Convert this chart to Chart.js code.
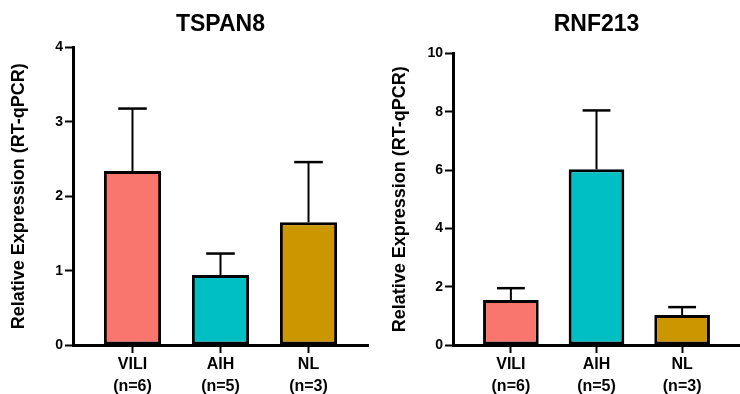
<!DOCTYPE html>
<html>
<head>
<meta charset="utf-8">
<script src="https://cdn.jsdelivr.net/npm/chart.js@4"></script>
<style>
  html, body { margin: 0; padding: 0; background: #fff; }
  #wrap { width: 740px; height: 394px; display: flex; }
  canvas { display: block; }
</style>
</head>
<body>
<div id="wrap">
  <canvas id="left" width="370" height="394"></canvas>
  <canvas id="right" width="370" height="394"></canvas>
</div>
<script>
// groups and sample sizes
var groups = ["VILI", "AIH", "NL"];
var counts = ["(n=6)", "(n=5)", "(n=3)"];
var colors = ["#F8766D", "#00BFC4", "#CC9600"];

// TSPAN8: mean and upper error (SEM)
var tspan8Mean = [2.34, 0.94, 1.65];
var tspan8Err = [0.84, 0.29, 0.81];

// RNF213: mean and upper error (SEM)
var rnf213Mean = [1.54, 6.03, 1.03];
var rnf213Err = [0.41, 2.02, 0.27];

Chart.defaults.font.family = "'Liberation Sans', Arial, sans-serif";
Chart.defaults.color = "#000";

// draws the one-sided error bar above each bar
var errorBars = {
    id: "errorBars",
    afterDatasetsDraw: function (chart) {
        var ctx = chart.ctx;
        var yScale = chart.scales.y;
        var ds = chart.data.datasets[0];
        var meta = chart.getDatasetMeta(0);
        ctx.save();
        ctx.strokeStyle = "#000";
        for (var i = 0; i < meta.data.length; i++) {
            var bar = meta.data[i];
            var top = yScale.getPixelForValue(ds.data[i].y + ds.errors[i]);
            var half = bar.width / 4;
            ctx.lineWidth = 2;
            ctx.beginPath();
            ctx.moveTo(bar.x, bar.y);
            ctx.lineTo(bar.x, top);
            ctx.stroke();
            ctx.lineWidth = 2.5;
            ctx.beginPath();
            ctx.moveTo(bar.x - half, top);
            ctx.lineTo(bar.x + half, top);
            ctx.stroke();
        }
        ctx.restore();
    }
};

function makeChart(id, title, means, errors, yMax, yStep, yWidth, titleLeft, titleBottom, padRight) {
    var points = [];
    for (var i = 0; i < means.length; i++) {
        points.push({ x: i, y: means[i] });
    }
    return new Chart(document.getElementById(id), {
        type: "bar",
        data: {
            datasets: [{
                data: points,
                errors: errors,
                backgroundColor: colors,
                borderColor: "#000",
                borderWidth: 3,
                borderSkipped: false,
                barPercentage: 0.65,
                categoryPercentage: 1
            }]
        },
        plugins: [errorBars],
        options: {
            responsive: false,
            animation: false,
            layout: { padding: { left: 0, right: padRight, top: 0, bottom: 0 } },
            plugins: {
                legend: { display: false },
                tooltip: { enabled: false },
                title: {
                    display: true,
                    text: title,
                    fullSize: false,
                    color: "#000",
                    font: { size: 23, weight: "bold" },
                    padding: { top: 11, bottom: titleBottom }
                }
            },
            scales: {
                x: {
                    type: "linear",
                    min: -0.676,
                    max: 2.676,
                    offset: false,
                    grid: {
                        offset: false,
                        drawOnChartArea: false,
                        tickLength: 8,
                        tickWidth: 2,
                        tickColor: "#000"
                    },
                    border: { color: "#000", width: 3 },
                    ticks: {
                        stepSize: 1,
                        includeBounds: false,
                        padding: 1,
                        maxRotation: 0,
                        autoSkip: false,
                        font: { size: 16, weight: "bold", lineHeight: 1.375 },
                        callback: function (v) {
                            if (Number.isInteger(v) && v >= 0 && v < groups.length) {
                                return [groups[v], counts[v]];
                            }
                            return "";
                        }
                    },
                    afterFit: function (scale) { scale.height = 49; }
                },
                y: {
                    min: 0,
                    max: yMax,
                    grid: {
                        drawOnChartArea: false,
                        tickLength: 8,
                        tickWidth: 2,
                        tickColor: "#000"
                    },
                    border: { color: "#000", width: 3 },
                    ticks: {
                        stepSize: yStep,
                        padding: 2,
                        font: { size: 14, weight: "bold" }
                    },
                    title: {
                        display: true,
                        text: "Relative Expression (RT-qPCR)",
                        color: "#000",
                        font: { size: 18, weight: "bold" },
                        padding: { top: titleLeft, bottom: 0 }
                    },
                    afterFit: function (scale) { scale.width = yWidth; }
                }
            }
        }
    });
}

makeChart("left", "TSPAN8", tspan8Mean, tspan8Err, 4, 1, 73, 8.4, 9, 2);
makeChart("right", "RNF213", rnf213Mean, rnf213Err, 10, 2, 83, 19, 15, 0);
</script>
</body>
</html>
